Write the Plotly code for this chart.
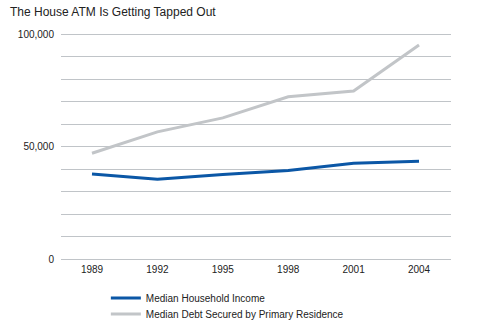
import plotly.graph_objects as go

# Survey years and medians (dollars)
years = ["1989", "1992", "1995", "1998", "2001", "2004"]
median_income = [37800, 35400, 37600, 39300, 42600, 43400]
median_home_debt = [47000, 56500, 62700, 72100, 74700, 95100]

y_ticks = [0, 50000, 100000]
y_tick_labels = ["0", "50,000", "100,000"]

idx = list(range(len(years)))

fig = go.Figure()
fig.add_trace(go.Scatter(
    x=idx, y=median_income, mode="lines", name="Median Household Income",
    line=dict(color="#0b57a6", width=3), legend="legend",
))
fig.add_trace(go.Scatter(
    x=idx, y=median_home_debt, mode="lines", name="Median Debt Secured by Primary Residence",
    line=dict(color="#c2c5c8", width=3), legend="legend2",
))

font_family = "Liberation Sans, Arial, sans-serif"
legend_style = dict(x=0.115, xanchor="left", yanchor="top", orientation="v",
                    font=dict(size=10, color="#222222"), bgcolor="rgba(0,0,0,0)")

fig.update_layout(
    width=477, height=329,
    margin=dict(l=61, r=26, t=31, b=67, autoexpand=False),
    paper_bgcolor="white", plot_bgcolor="white",
    font=dict(family=font_family, size=10, color="#222222"),
    title=dict(text="The House ATM Is Getting Tapped Out", x=10 / 477, xanchor="left",
               y=1 - 12 / 329, yanchor="middle",
               font=dict(size=12, color="#222222", family=font_family)),
    showlegend=True,
    legend=dict(y=-0.093, **legend_style),
    legend2=dict(y=-0.162, **legend_style),
    xaxis=dict(
        range=[-0.474, 5.489], tickmode="array", tickvals=idx, ticktext=years,
        showgrid=False, zeroline=False, showline=False, ticks="",
        tickfont=dict(size=10, color="#222222"),
    ),
    yaxis=dict(
        range=[-1333, 101333], tickmode="array", tickvals=y_ticks, ticktext=y_tick_labels,
        showgrid=True, gridcolor="#c0c4c8", gridwidth=1,
        minor=dict(dtick=10000, tick0=0, showgrid=True, gridcolor="#c0c4c8", gridwidth=1),
        zeroline=False, showline=False, ticks="", ticklabelstandoff=6,
        tickfont=dict(size=10, color="#222222"),
    ),
)

fig.write_html("out.html")
